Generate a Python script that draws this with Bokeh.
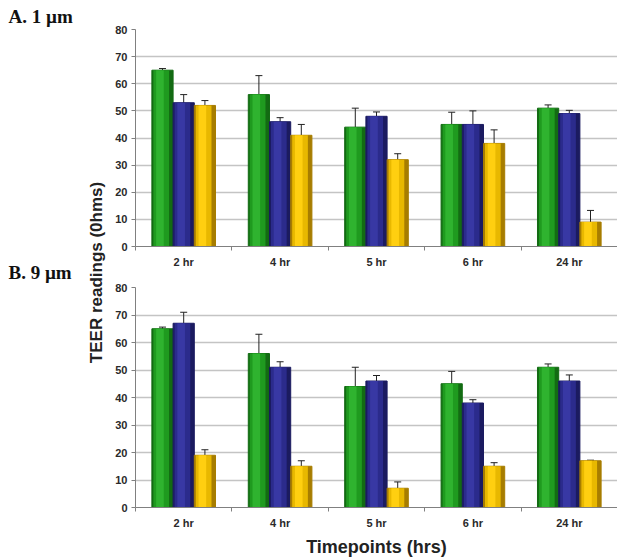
import numpy as np
from math import pi
from bokeh.plotting import figure
from bokeh.layouts import row, column
from bokeh.models import (ColumnDataSource, Range1d, FixedTicker, Whisker, TeeHead, Label)
from bokeh.embed import file_html
from bokeh.resources import INLINE

# ---------------- data ----------------
timepoints = ["2 hr", "4 hr", "5 hr", "6 hr", "24 hr"]
y_ticks = [0, 10, 20, 30, 40, 50, 60, 70, 80]

# Panel A: 1 um
a_green = [65, 56, 44, 45, 51]
a_green_err = [0.6, 7, 7, 4.5, 1.2]
a_blue = [53, 46, 48, 45, 49]
a_blue_err = [3, 1.5, 1.6, 5, 1.2]
a_yellow = [52, 41, 32, 38, 9]
a_yellow_err = [1.8, 4, 2.2, 5, 4.3]

# Panel B: 9 um
b_green = [65, 56, 44, 45, 51]
b_green_err = [0.6, 7, 7, 4.5, 1.2]
b_blue = [67, 51, 46, 38, 46]
b_blue_err = [4, 2, 2, 1.2, 2.2]
b_yellow = [19, 15, 7, 15, 17]
b_yellow_err = [2, 2, 2.3, 1.3, 0.2]

# shading: (edge/dark, mid, highlight) per series
series_shades = [("#136b13", "#1f9a1f", "#2fb32f"),
                 ("#1b1b60", "#2b2b8c", "#3838a4"),
                 ("#a77d00", "#e8b800", "#ffcf10")]

FONT = "Liberation Sans"
TOTAL_W = 617
TOTAL_H = 560
LEFT_W = 108
PANEL_W = TOTAL_W - LEFT_W
TOP_H = 274
BOT_H = TOTAL_H - TOP_H
BAR_W = 0.22


def panel(height, b_top, b_bottom, series, errs, xlabel=None):
    p = figure(width=PANEL_W, height=height, output_backend="svg", toolbar_location=None,
               x_range=Range1d(0, len(timepoints)), y_range=Range1d(0, 80),
               min_border_left=27, min_border_right=0, min_border_top=b_top,
               min_border_bottom=b_bottom, tools="")
    p.outline_line_color = None
    p.background_fill_color = "white"
    p.border_fill_color = "white"

    p.xgrid.grid_line_color = None
    p.ygrid.ticker = FixedTicker(ticks=y_ticks)
    p.ygrid.grid_line_color = "#c4c4c4"
    p.ygrid.grid_line_width = 1.5

    centers = np.arange(len(timepoints)) + 0.5
    offsets = [-BAR_W, 0.0, BAR_W]
    for vals, err, off, shades in zip(series, errs, offsets, series_shades):
        v = np.array(vals, dtype=float)
        e = np.array(err, dtype=float)
        x = centers + off
        src = ColumnDataSource(dict(x=x, xm=x - 0.06 * BAR_W, xh=x - 0.12 * BAR_W,
                                    top=v, upper=v + e, lower=v - e))
        dark, mid, light = shades
        p.vbar(x="x", top="top", bottom=0, width=BAR_W, source=src,
               fill_color=dark, line_color=dark, line_width=1)
        p.vbar(x="xm", top="top", bottom=0, width=0.74 * BAR_W, source=src,
               fill_color=mid, line_color=None)
        p.vbar(x="xh", top="top", bottom=0, width=0.36 * BAR_W, source=src,
               fill_color=light, line_color=None)
        p.add_layout(Whisker(source=src, base="x", upper="upper", lower="lower",
                             dimension="height", line_color="#222222", line_width=1,
                             upper_head=TeeHead(size=7, line_color="#222222", line_width=1),
                             lower_head=TeeHead(size=7, line_color="#222222", line_width=1)))

    # y axis
    p.yaxis.ticker = FixedTicker(ticks=y_ticks)
    p.yaxis.axis_line_color = "#808080"
    p.yaxis.major_tick_line_color = "#808080"
    p.yaxis.major_tick_out = 4
    p.yaxis.major_tick_in = 0
    p.yaxis.minor_tick_line_color = None
    p.yaxis.major_label_text_font = FONT
    p.yaxis.major_label_text_font_style = "bold"
    p.yaxis.major_label_text_font_size = "11px"
    p.yaxis.major_label_text_color = "#2a2a2a"
    p.yaxis.major_label_standoff = 4

    # x axis: labels at group centres, ticks at group boundaries
    p.xaxis.ticker = FixedTicker(ticks=list(centers),
                                 minor_ticks=list(range(len(timepoints) + 1)))
    p.xaxis.major_label_overrides = {float(c): t for c, t in zip(centers, timepoints)}
    p.xaxis.axis_line_color = "#808080"
    p.xaxis.major_tick_line_color = None
    p.xaxis.major_tick_out = 0
    p.xaxis.major_tick_in = 0
    p.xaxis.minor_tick_line_color = "#808080"
    p.xaxis.minor_tick_out = 4
    p.xaxis.minor_tick_in = 0
    p.xaxis.major_label_text_font = FONT
    p.xaxis.major_label_text_font_style = "bold"
    p.xaxis.major_label_text_font_size = "11px"
    p.xaxis.major_label_text_color = "#2a2a2a"
    p.xaxis.major_label_standoff = 5
    if xlabel:
        p.xaxis.axis_label = xlabel
        p.xaxis.axis_label_text_font = FONT
        p.xaxis.axis_label_text_font_style = "bold"
        p.xaxis.axis_label_text_font_size = "18px"
        p.xaxis.axis_label_text_color = "#222222"
        p.xaxis.axis_label_standoff = 5
    return p


top = panel(TOP_H, 29, TOP_H - 29 - 217, [a_green, a_blue, a_yellow],
            [a_green_err, a_blue_err, a_yellow_err])
bottom = panel(BOT_H, 287 - TOP_H, BOT_H - (287 - TOP_H) - 220, [b_green, b_blue, b_yellow],
               [b_green_err, b_blue_err, b_yellow_err], xlabel="Timepoints (hrs)")

# left strip with panel letters and the shared y title
left = figure(width=LEFT_W, height=TOTAL_H, output_backend="svg", toolbar_location=None,
              x_range=Range1d(0, LEFT_W), y_range=Range1d(0, TOTAL_H), tools="",
              min_border=0, x_axis_location=None, y_axis_location=None)
left.outline_line_color = None
left.grid.grid_line_color = None
left.border_fill_color = "white"

for txt, ycen in [("A. 1 µm", 16), ("B. 9 µm", 272)]:
    left.add_layout(Label(x=8, y=TOTAL_H - ycen, x_units="screen", y_units="screen", text=txt,
                          text_font="Liberation Serif", text_font_style="bold",
                          text_font_size="19px", text_baseline="middle", text_color="#111111"))
left.add_layout(Label(x=96, y=TOTAL_H - 272, x_units="screen", y_units="screen",
                      text="TEER readings (0hms)", angle=pi / 2, text_font=FONT,
                      text_font_style="bold", text_font_size="17px", text_align="center",
                      text_baseline="middle", text_color="#222222"))

layout = row(left, column(top, bottom))
open("out.html", "w").write(file_html(layout, INLINE))
